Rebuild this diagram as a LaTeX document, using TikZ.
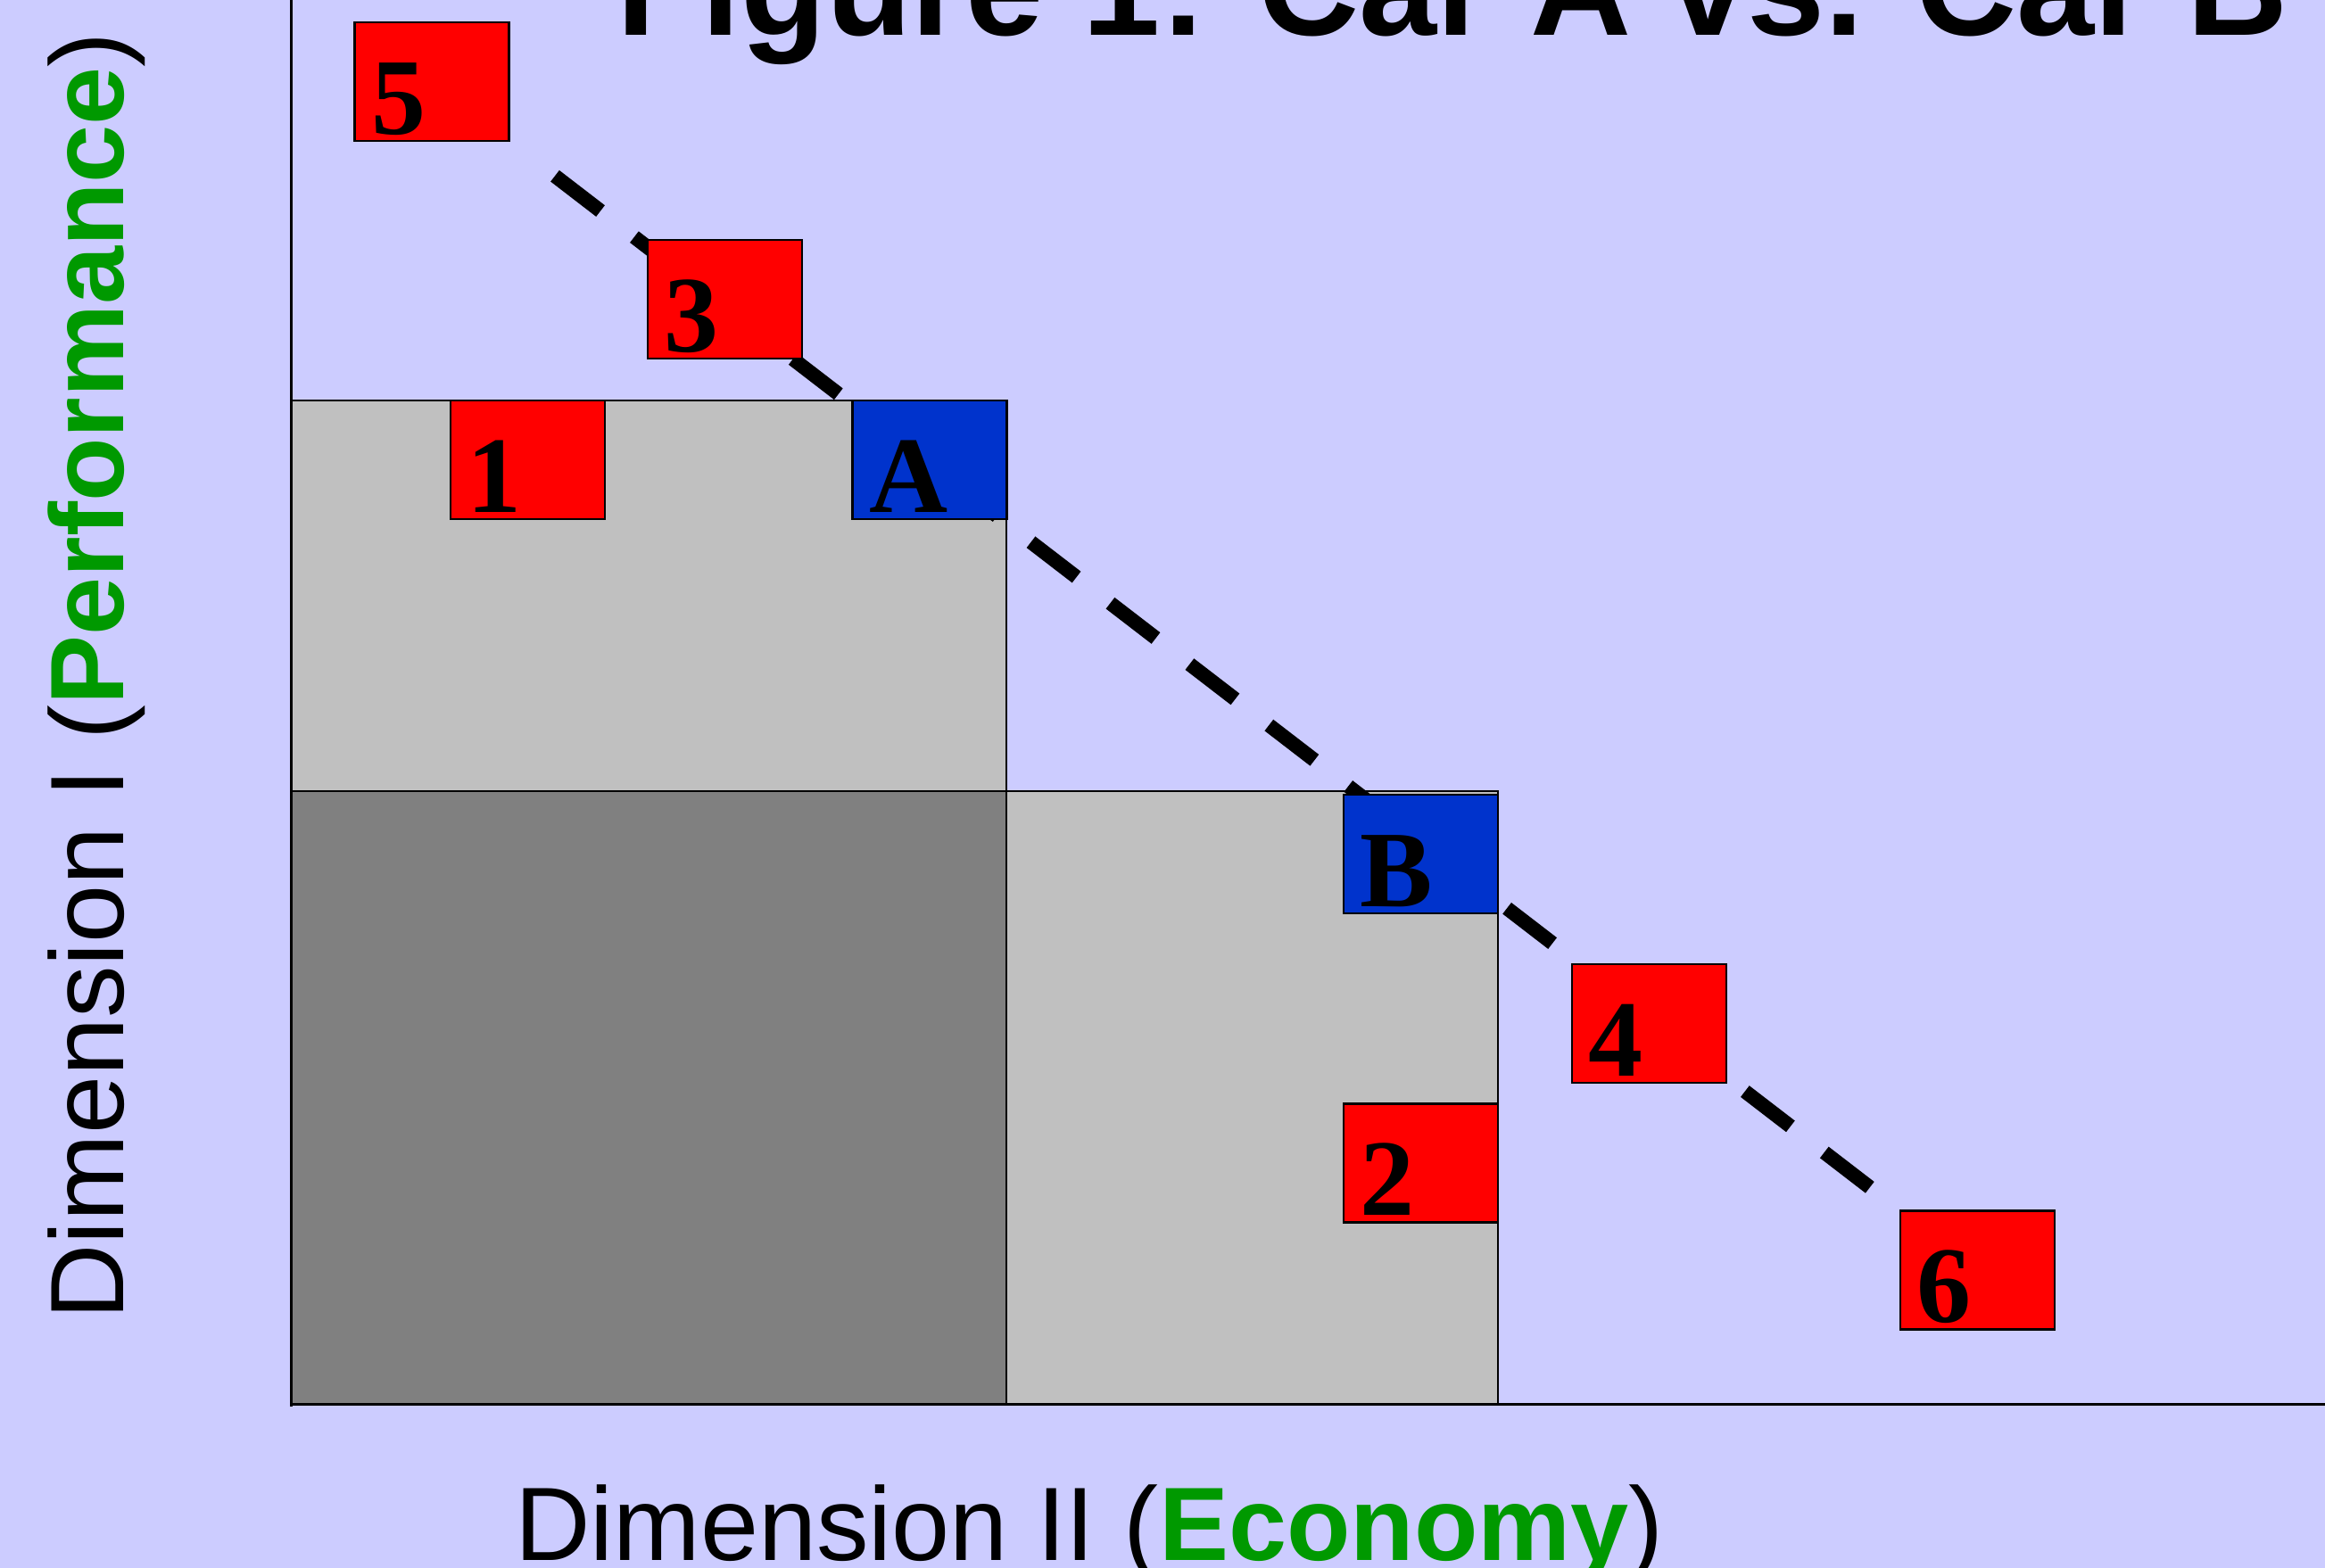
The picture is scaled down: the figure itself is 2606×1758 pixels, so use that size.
\documentclass[tikz,border=0pt]{standalone}
\usepackage{fontspec}
\setmainfont{Liberation Serif}
\newfontfamily\arialfont{Liberation Sans}
\usetikzlibrary{calc}
\definecolor{bgc}{HTML}{CCCCFF}
\definecolor{lgray}{HTML}{C0C0C0}
\definecolor{dgray}{HTML}{808080}
\definecolor{boxred}{HTML}{FF0000}
\definecolor{boxblue}{HTML}{0033CC}
\definecolor{grn}{HTML}{009900}
\tikzset{
  region/.style={draw=black, line width=0.5pt},
  axisline/.style={draw=black, line width=0.75pt},
  markbox/.style={draw=black, line width=0.6pt, minimum width=43.25pt, minimum height=33.25pt, inner sep=0pt},
  redbox/.style={markbox, fill=boxred},
  bluebox/.style={markbox, fill=boxblue},
  boxlbl/.style={anchor=base west, inner sep=0pt, font=\bfseries\fontsize{30.5pt}{36pt}\selectfont},
  axislbl/.style={anchor=base, inner sep=0pt, font=\arialfont\fontsize{29.25pt}{35pt}\selectfont},
  dashline/.style={draw=black, line width=4pt, dash pattern=on 16.1pt off 11.95pt, dash phase=17.95pt}
}
\begin{document}
\begin{tikzpicture}[x=0.25pt,y=-0.25pt]
\path[use as bounding box, fill=bgc] (0,0) rectangle (2606,1758);
\clip (0,0) rectangle (2606,1758);
% shaded regions
\filldraw[region, fill=lgray] (326,449) rectangle (1128,1574);
\filldraw[region, fill=lgray] (326,887) rectangle (1679,1574);
\filldraw[region, fill=dgray] (326,887) rectangle (1128,1574);
% axes
\coordinate (ytop) at (326,0);
\coordinate (ybot) at (326,1577);
\coordinate (xl) at (326,1574);
\coordinate (xr) at (2606,1574);
\draw[axisline] (ytop) -- (ybot);
\draw[axisline] (xl) -- (xr);
% box centres
\coordinate (c5) at (484,91.5);
\coordinate (c3) at (812.5,335.5);
\coordinate (c1) at (591.5,515.5);
\coordinate (cA) at (1042,515.5);
\coordinate (cB) at (1592.5,957.5);
\coordinate (c2) at (1592.5,1304);
\coordinate (c4) at (1848.5,1147.5);
\coordinate (c6) at (2216.5,1424);
\coordinate (l5) at (590,172.6);
\coordinate (l6) at (2125,1353.7);
% dashed trend line
\draw[dashline] (l5) -- (l6);
% boxes
\node[redbox] (n5) at (c5) {};
\node[redbox] (n3) at (c3) {};
\node[redbox] (n1) at (c1) {};
\node[bluebox] (nA) at (cA) {};
\node[bluebox] (nB) at (cB) {};
\node[redbox] (n2) at (c2) {};
\node[redbox] (n4) at (c4) {};
\node[redbox] (n6) at (c6) {};
\foreach \b/\t in {5/5,3/3,1/1,A/A,B/B,2/2,4/4,6/6}{
  \node[boxlbl] (t\b) at ($(n\b.south west)+(19,-9)$) {\t};
}
% texts
\node[anchor=base west, inner sep=0pt, font=\arialfont\bfseries\fontsize{39.15pt}{47pt}\selectfont] (title) at (690.5,39) {Figure 1: Car A vs. Car B};
\node[axislbl, rotate=90] (ylab) at (138,758) {Dimension I ({\bfseries\color{grn}Performance})};
\node[axislbl] (xlab) at (1221,1749) {Dimension II ({\bfseries\color{grn}Economy})};
\end{tikzpicture}
\end{document}
